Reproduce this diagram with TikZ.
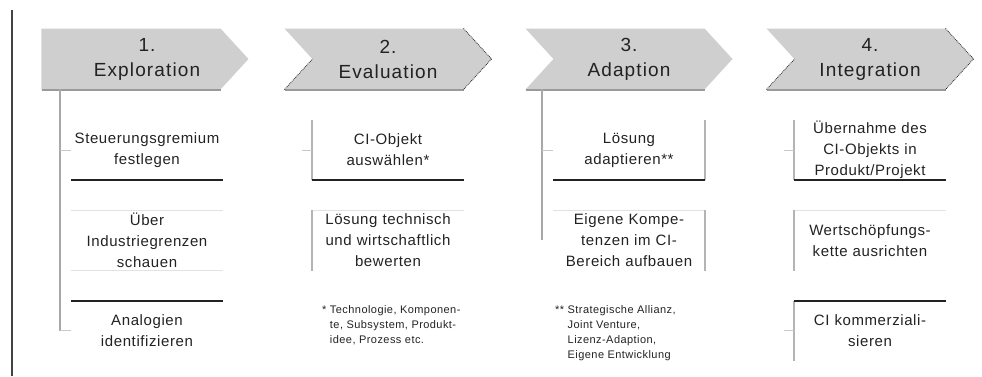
\documentclass[tikz,border=0pt]{standalone}
\usepackage{fontspec}
\setmainfont{Liberation Sans}
\usetikzlibrary{shapes.symbols,positioning,calc}
\definecolor{chev}{HTML}{CFCFCF}
\definecolor{ink}{HTML}{222222}
\definecolor{rimgrey}{HTML}{9A9A9A}
\definecolor{treegrey}{HTML}{A8A8A8}
\definecolor{tickgrey}{HTML}{C8C8C8}
\definecolor{sidegrey}{HTML}{B4B4B4}
\definecolor{faintgrey}{HTML}{E2E2E2}
\newcommand\phasefont{\fontsize{19}{25}\selectfont\addfontfeature{LetterSpace=6}}
\newcommand\boxfont{\fontsize{15}{21}\selectfont\addfontfeature{LetterSpace=4}}
\newcommand\notefont{\fontsize{11}{15}\selectfont\addfontfeature{LetterSpace=4}}

\begin{document}
\begin{tikzpicture}[x=1pt,y=-1pt,
 node distance=30pt,
 phase/.style={signal,signal to=east,signal pointer angle=95,fill=chev,
   minimum width=207pt,minimum height=61pt,inner sep=0pt,align=center,
   text=ink,font=\phasefont},
 notched/.style={phase,signal from=west},
 phasetext/.style={align=center,inner sep=0pt,text=ink,font=\phasefont},
 box/.style={text width=152pt,minimum height=60pt,inner sep=0pt,align=center,
   text=ink,font=\boxfont},
 note/.style={anchor=north west,align=left,inner sep=0pt,text=ink,font=\notefont},
 tree/.style={draw=treegrey,line width=2pt},
 tick/.style={draw=tickgrey,line width=1pt},
 bar/.style={draw=ink,line width=2pt},
 faint/.style={draw=faintgrey,line width=1pt},
 sideline/.style={draw=sidegrey,line width=1.5pt},
 rim/.style={draw=rimgrey,line width=2pt},
 dots/.style={draw=ink,densely dotted,line width=0.8pt}]
 \useasboundingbox (0,0) rectangle (982,376);
 % left margin rule
 \draw[draw=ink!85,line width=2pt] (12,10) -- (12,376);

 % phases
 \node[phase] (ch1) at (131,59) {};
 \node[phasetext] (p1) at (147,59) {1.\\Exploration};
 \node[notched] (ch2) at (388,59) {2.\\Evaluation};
 \node[notched] (ch3) at (629,59) {3.\\Adaption};
 \node[notched] (ch4) at (870,59) {4.\\Integration};
 \draw[rim] ($(ch1.center)+(-89,30.5)$) -- ($(ch1.center)+(90,30.5)$);
 \draw[rim] ($(ch2.center)+(-103.5,30.5)$) -- ($(ch2.center)+(75.5,30.5)$);
 \draw[rim] ($(ch3.center)+(-103.5,30.5)$) -- ($(ch3.center)+(75.5,30.5)$);
 \draw[rim] ($(ch4.center)+(-103.5,30.5)$) -- ($(ch4.center)+(75.5,30.5)$);
 \draw[dots] ($(ch2.center)+(-103.5,30.5)$) -- ($(ch2.center)+(-75.5,0)$);
 \draw[dots] ($(ch2.center)+(75.5,-30.5)$) -- ($(ch2.center)+(103.5,0)$) -- ($(ch2.center)+(75.5,30.5)$);
 \draw[dots] ($(ch4.center)+(-103.5,30.5)$) -- ($(ch4.center)+(-75.5,0)$);
 \draw[dots] ($(ch4.center)+(75.5,-30.5)$) -- ($(ch4.center)+(103.5,0)$) -- ($(ch4.center)+(75.5,30.5)$);

 % column 1
 \node[box] (b11) at (147,150) {Steuerungsgremium\\festlegen};
 \node[box,below=of b11] (b12) {Über\\Industriegrenzen\\schauen};
 \node[box,below=of b12] (b13) {Analogien\\identifizieren};
 \draw[bar] (b11.south west) -- (b11.south east);
 \draw[faint] (b12.north west) -- (b12.north east);
 \draw[faint] (b12.south west) -- (b12.south east);
 \draw[bar] (b13.north west) -- (b13.north east);
 \coordinate (t1) at (60,89);
 \draw[tree] (t1) -- (t1 |- b13.west);
 \draw[tick] (t1 |- b11.west) -- (b11.west);
 \draw[tick] (t1 |- b13.west) -- (b13.west);

 % column 2
 \node[box] (b21) at (388,150) {CI-Objekt\\auswählen*};
 \node[box,below=of b21] (b22) {Lösung technisch\\und wirtschaftlich\\bewerten};
 \node[note] (n2) at (322,305) {* Technologie, Komponen-\\\phantom{* }te, Subsystem, Produkt-\\\phantom{* }idee, Prozess etc.};
 \draw[sideline] (b21.north west) -- (b21.south west);
 \draw[bar] (b21.south west) -- (b21.south east);
 \draw[faint] (b22.north west) -- (b22.north east);
 \draw[sideline] (b22.north west) -- (b22.south west);
 \draw[tick] ($(b21.west)+(-10,0)$) -- (b21.west);

 % column 3
 \node[box] (b31) at (629,150) {Lösung\\adaptieren**};
 \node[box,below=of b31] (b32) {Eigene Kompe-\\tenzen im CI-\\Bereich aufbauen};
 \node[note] (n3) at (555,305) {** Strategische Allianz,\\\phantom{** }Joint Venture,\\\phantom{** }Lizenz-Adaption,\\\phantom{** }Eigene Entwicklung};
 \draw[sideline] (b31.north east) -- (b31.south east);
 \draw[bar] (b31.south west) -- (b31.south east);
 \draw[faint] (b32.north west) -- (b32.north east);
 \draw[sideline] (b32.north east) -- (b32.south east);
 \coordinate (t3) at (542,89);
 \draw[tree] (t3) -- (t3 |- b32.west);
 \draw[tick] (t3 |- b31.west) -- (b31.west);

 % column 4
 \node[box] (b41) at (870,150) {Übernahme des\\CI-Objekts in\\Produkt/Projekt};
 \node[box,below=of b41] (b42) {Wertschöpfungs-\\kette ausrichten};
 \node[box,below=of b42] (b43) {CI kommerziali-\\sieren};
 \draw[sideline] (b41.north west) -- (b41.south west);
 \draw[bar] (b41.south west) -- (b41.south east);
 \draw[faint] (b42.north west) -- (b42.north east);
 \draw[sideline] (b42.north west) -- (b42.south west);
 \draw[sideline] (b43.north west) -- (b43.south west);
 \draw[bar] (b43.north west) -- (b43.north east);
 \draw[tick] ($(b41.west)+(-10,0)$) -- (b41.west);
 \draw[tick] ($(b43.west)+(-10,0)$) -- (b43.west);
\end{tikzpicture}
\end{document}
